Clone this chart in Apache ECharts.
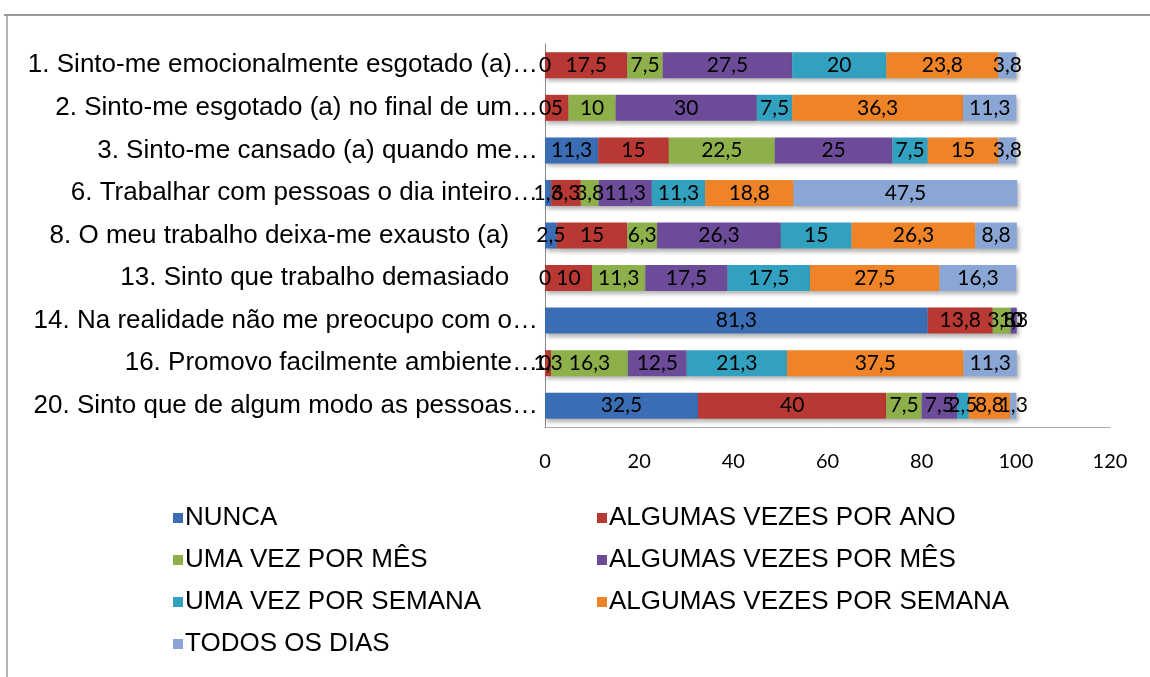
<!DOCTYPE html>
<html>
<head>
<meta charset="utf-8">
<script src="https://cdn.jsdelivr.net/npm/echarts@6/dist/echarts.min.js"></script>
<style>
  html, body { margin: 0; padding: 0; background: #fff; }
  #barChart { width: 1150px; height: 677px; }
</style>
</head>
<body>
<div id="barChart"></div>
<script>
var categories = [
  "1. Sinto-me emocionalmente esgotado (a)…",
  "2. Sinto-me esgotado (a) no final de um…",
  "3. Sinto-me cansado (a) quando me…",
  "6. Trabalhar com pessoas o dia inteiro…",
  "8. O meu trabalho deixa-me exausto (a)    ",
  "13. Sinto que trabalho demasiado    ",
  "14. Na realidade não me preocupo com o…",
  "16. Promovo facilmente ambiente…",
  "20. Sinto que de algum modo as pessoas…"
];
var seriesNames = [
  "NUNCA", "ALGUMAS VEZES POR ANO", "UMA VEZ POR MÊS", "ALGUMAS VEZES POR MÊS",
  "UMA VEZ POR SEMANA", "ALGUMAS VEZES POR SEMANA", "TODOS OS DIAS"
];
var nunca       = [0, 0, 11.3, 1.3, 2.5, 0, 81.3, 0, 32.5];
var vezesAno    = [17.5, 5, 15, 6.3, 15, 10, 13.8, 1.3, 40];
var umaMes      = [7.5, 10, 22.5, 3.8, 6.3, 11.3, 3.8, 16.3, 7.5];
var vezesMes    = [27.5, 30, 25, 11.3, 26.3, 17.5, 1.3, 12.5, 7.5];
var umaSemana   = [20, 7.5, 7.5, 11.3, 15, 17.5, 0, 21.3, 2.5];
var vezesSemana = [23.8, 36.3, 15, 18.8, 26.3, 27.5, 0, 37.5, 8.8];
var todosDias   = [3.8, 11.3, 3.8, 47.5, 8.8, 16.3, 0, 11.3, 1.3];
var xTicks = [0, 20, 40, 60, 80, 100, 120];

var colors = ["#3a6db4", "#b83834", "#8db04a", "#6c4c98", "#32a0bf", "#ee8427", "#8aa6d4"];
var values = [nunca, vezesAno, umaMes, vezesMes, umaSemana, vezesSemana, todosDias];

var series = seriesNames.map(function (name, i) {
  return {
    name: name,
    type: "bar",
    stack: "total",
    barWidth: 26,
    data: values[i],
    itemStyle: {
      color: colors[i],
      shadowColor: "rgba(0,0,0,0.3)",
      shadowBlur: 4,
      shadowOffsetX: 2,
      shadowOffsetY: 3
    },
    label: {
      show: true,
      position: "inside",
      color: "#000",
      fontFamily: "Lato",
      fontSize: 21,
      formatter: function (p) {
        return String(p.value).replace(".", ",");
      }
    }
  };
});

var legendText = { color: "#000", fontFamily: "Liberation Sans", fontSize: 26, lineHeight: 26, padding: [0, 0, 0, -3] };

var chart = echarts.init(document.getElementById("barChart"));
chart.setOption({
  animation: false,
  grid: { left: 545, right: 40, top: 44, bottom: 250, containLabel: false },
  xAxis: {
    type: "value",
    min: 0,
    max: 120,
    interval: 20,
    axisLine: { show: true, lineStyle: { color: "#aaa", width: 1 } },
    axisTick: { show: false },
    splitLine: { show: false },
    axisLabel: {
      color: "#000",
      fontFamily: "Lato",
      fontSize: 20,
      margin: 25,
      customValues: xTicks
    }
  },
  yAxis: {
    type: "category",
    inverse: true,
    data: categories,
    axisLine: { show: true, lineStyle: { color: "#888", width: 1 } },
    axisTick: { show: false },
    axisLabel: {
      color: "#000",
      fontFamily: "Liberation Sans",
      fontSize: 26,
      margin: 7
    }
  },
  legend: [
    {
      orient: "vertical",
      left: 168,
      top: 500,
      itemWidth: 10,
      itemHeight: 10,
      itemGap: 16,
      icon: "rect",
      data: [seriesNames[0], seriesNames[2], seriesNames[4], seriesNames[6]],
      textStyle: legendText
    },
    {
      orient: "vertical",
      left: 592,
      top: 500,
      itemWidth: 10,
      itemHeight: 10,
      itemGap: 16,
      icon: "rect",
      data: [seriesNames[1], seriesNames[3], seriesNames[5]],
      textStyle: legendText
    }
  ],
  graphic: [
    { type: "line", shape: { x1: 4, y1: 15, x2: 1150, y2: 15 }, style: { stroke: "#999", lineWidth: 2 } },
    { type: "line", shape: { x1: 7, y1: 15, x2: 7, y2: 677 }, style: { stroke: "#999", lineWidth: 1.5 } }
  ],
  series: series
});
</script>
</body>
</html>
